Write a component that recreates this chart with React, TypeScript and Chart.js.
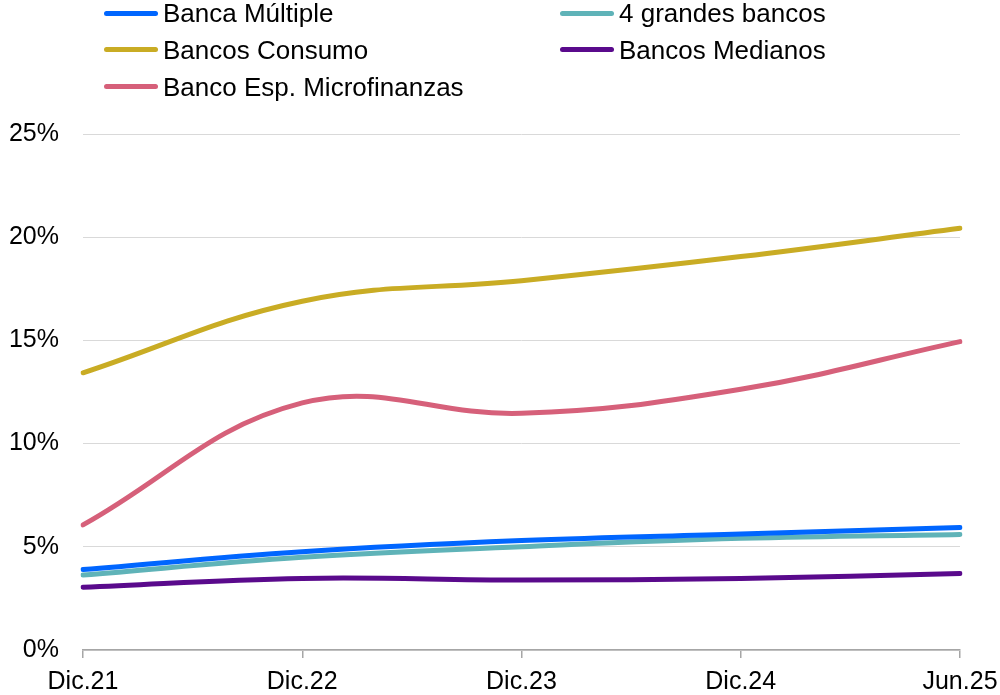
import React, { useEffect, useRef } from "react";
import { Chart, registerables } from "chart.js";

Chart.register(...registerables);

const categories = ["Dic.21", "Dic.22", "Dic.23", "Dic.24", "Jun.25"];
const bancaMultiple = [3.9, 4.76, 5.3, 5.62, 5.94];
const cuatroGrandes = [3.63, 4.49, 5.0, 5.41, 5.6];
const bancosConsumo = [13.43, 16.9, 17.89, 19.06, 20.43];
const bancosMedianos = [3.04, 3.47, 3.39, 3.47, 3.71];
const microfinanzas = [6.06, 11.97, 11.47, 12.63, 14.94];
const yTicks = [0, 5, 10, 15, 20, 25];

const seriesNames = [
  "Banca Múltiple",
  "4 grandes bancos",
  "Bancos Consumo",
  "Bancos Medianos",
  "Banco Esp. Microfinanzas",
];
const seriesColors = ["#0066ff", "#5fb3b8", "#c9ac24", "#5a0a8c", "#d6607a"];
const seriesData = [bancaMultiple, cuatroGrandes, bancosConsumo, bancosMedianos, microfinanzas];

const FONT = "'Liberation Sans', Arial, sans-serif";

const legendLayout = [
  { left: 104, top: 13 },
  { left: 560, top: 13 },
  { left: 104, top: 49.5 },
  { left: 560, top: 49.5 },
  { left: 104, top: 86.5 },
];

export default function App() {
  const ref = useRef<HTMLCanvasElement | null>(null);

  useEffect(() => {
    if (!ref.current) return;
    const chart = new Chart(ref.current, {
      type: "line",
      data: {
        labels: categories,
        datasets: seriesData.map((d, i) => ({
          label: seriesNames[i],
          data: d,
          borderColor: seriesColors[i],
          backgroundColor: seriesColors[i],
          borderWidth: 5,
          borderCapStyle: "round",
          pointRadius: 0,
          tension: 0.4,
          fill: false,
        })),
      },
      options: {
        responsive: false,
        animation: false,
        layout: { padding: { top: 134, right: 40, left: 0, bottom: 0 } },
        plugins: {
          legend: { display: false },
          tooltip: { enabled: false },
        },
        scales: {
          x: {
            offset: false,
            grid: {
              drawOnChartArea: false,
              drawTicks: true,
              tickLength: 8,
              color: "#a6a6a6",
              lineWidth: 1.5,
            },
            border: { display: true, color: "#a6a6a6", width: 1.5 },
            ticks: {
              color: "#000",
              font: { family: FONT, size: 25 },
              padding: 9,
              maxRotation: 0,
              autoSkip: false,
            },
            afterFit: (s: any) => {
              s.height = 45;
              s.paddingLeft = 0;
              s.paddingRight = 0;
            },
          },
          y: {
            min: 0,
            max: 25,
            afterBuildTicks: (s: any) => {
              s.ticks = yTicks.map((v) => ({ value: v }));
            },
            grid: { color: "#d9d9d9", lineWidth: 1, drawTicks: false },
            border: { display: false },
            ticks: {
              color: "#000",
              font: { family: FONT, size: 25 },
              padding: 24,
              callback: (v: any) => `${v}%`,
            },
            afterFit: (s: any) => {
              s.width = 83;
            },
          },
        },
      },
    });
    return () => chart.destroy();
  }, []);

  return (
    <div style={{ position: "absolute", left: 0, top: 0, width: 1000, height: 695, background: "#fff" }}>
      <canvas ref={ref} width={1000} height={695} style={{ position: "absolute", left: 0, top: 0, width: 1000, height: 695 }} />
      {seriesNames.map((name, i) => (
        <div
          key={name}
          style={{
            position: "absolute",
            left: legendLayout[i].left,
            top: legendLayout[i].top - 15,
            height: 30,
            display: "flex",
            alignItems: "center",
            whiteSpace: "nowrap",
          }}
        >
          <span
            style={{
              display: "inline-block",
              width: 54,
              height: 5,
              borderRadius: 3,
              background: seriesColors[i],
              marginRight: 5,
            }}
          />
          <span
            style={{
              fontFamily: FONT,
              fontSize: 25,
              color: "#000",
              lineHeight: "30px",
              display: "inline-block",
              transform: "scaleX(1.04)",
              transformOrigin: "left center",
            }}
          >
            {name}
          </span>
        </div>
      ))}
    </div>
  );
}
